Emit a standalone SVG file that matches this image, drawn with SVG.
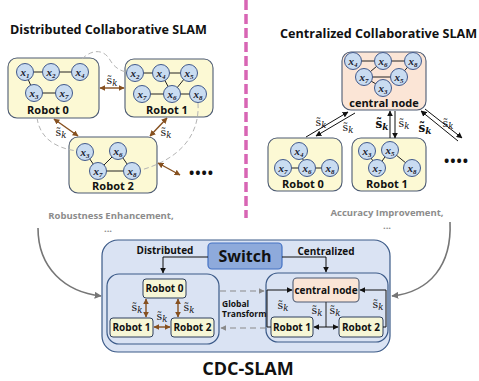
<svg xmlns="http://www.w3.org/2000/svg" width="479" height="381" viewBox="0 0 479 381">
  <style>
    .title { font-family: "Open Sans", "Noto Sans", sans-serif; font-weight: bold; font-size: 12.6px; fill: #111; }
    .robot { fill: #fcf9d4; stroke: #4d5b73; stroke-width: 1.1; }
    .cnode { fill: #fbe5d6; stroke: #4d5b73; stroke-width: 1.1; }
    .lbl { font-family: "Open Sans", "Noto Sans", sans-serif; font-weight: bold; font-size: 11px; fill: #111; text-anchor: middle; }
    .slbl { font-family: "Open Sans", "Noto Sans", sans-serif; font-weight: bold; font-size: 10px; fill: #111; text-anchor: middle; }
    .v circle { fill: #c9dcf1; stroke: #41598b; stroke-width: 1; }
    .v text { font-family: "Liberation Serif", "DejaVu Serif", serif; font-style: italic; font-weight: bold; font-size: 11px; fill: #1a1a2e; text-anchor: middle; }
    .edge { stroke: #222; stroke-width: 1; fill: none; }
    .sk { font-family: "DejaVu Serif", "Liberation Serif", serif; font-size: 11px; fill: #111; text-anchor: middle; }
    .skb { font-weight: bold; font-size: 12px; }
    .brown { stroke: #86501f; stroke-width: 1.4; fill: none; marker-start: url(#ab); marker-end: url(#ab); }
    .blk { stroke: #111; stroke-width: 1; fill: none; marker-end: url(#ak); }
    .gdash { stroke: #b4b4b4; stroke-width: 1; fill: none; stroke-dasharray: 5 3; }
    .note { font-family: "Open Sans", "Noto Sans", sans-serif; font-weight: bold; font-size: 9.5px; fill: #8c8c8c; text-anchor: middle; }
    .curve { stroke: #767676; stroke-width: 1.6; fill: none; marker-end: url(#ag); }
    .panel { fill: #dae3f3; stroke: #3b5a88; stroke-width: 1.2; }
    .sbox { fill: #f6f6d6; stroke: #2e3e5c; stroke-width: 1; }
    .dots { font-family: "Open Sans", "Noto Sans", sans-serif; font-weight: bold; font-size: 14px; fill: #111; letter-spacing: 1px; }
  </style>
  <defs>
    <marker id="ab" viewBox="0 0 10 10" refX="9" refY="5" markerWidth="6" markerHeight="6" markerUnits="userSpaceOnUse" orient="auto-start-reverse">
      <path d="M0,0 L10,5 L0,10 z" fill="#86501f"/>
    </marker>
    <marker id="ak" viewBox="0 0 10 10" refX="9" refY="5" markerWidth="6" markerHeight="6" markerUnits="userSpaceOnUse" orient="auto">
      <path d="M0,0 L10,5 L0,10 z" fill="#111"/>
    </marker>
    <marker id="ag" viewBox="0 0 10 10" refX="9" refY="5" markerWidth="7" markerHeight="7" markerUnits="userSpaceOnUse" orient="auto">
      <path d="M0,0 L10,5 L0,10 z" fill="#767676"/>
    </marker>
    <marker id="ag2" viewBox="0 0 10 10" refX="9" refY="5" markerWidth="6" markerHeight="6" markerUnits="userSpaceOnUse" orient="auto">
      <path d="M0,0 L10,5 L0,10 z" fill="#8a8a8a"/>
    </marker>
  </defs>

  <!-- section titles -->
  <text class="title" x="10" y="34">Distributed Collaborative SLAM</text>
  <text class="title" x="280" y="38">Centralized Collaborative SLAM</text>

  <!-- divider -->
  <line x1="246" y1="0" x2="246" y2="218" stroke="#d865b4" stroke-width="3.5" stroke-dasharray="10 4"/>

  <!-- ===== distributed: robots ===== -->
  <g id="d-robot0">
    <rect class="robot" x="8" y="58" width="91" height="60" rx="9"/>
    <line class="edge" x1="25" y1="72" x2="80" y2="72"/>
    <line class="edge" x1="25" y1="72" x2="34" y2="93"/>
    <line class="edge" x1="34" y1="93" x2="64" y2="93"/>
    <g class="v">
      <circle cx="25" cy="72" r="8.5"/><text x="25" y="75.5">x<tspan font-size="7" dy="2">1</tspan></text>
      <circle cx="51" cy="72" r="8.5"/><text x="51" y="75.5">x<tspan font-size="7" dy="2">2</tspan></text>
      <circle cx="80" cy="72" r="8.5"/><text x="80" y="75.5">x<tspan font-size="7" dy="2">4</tspan></text>
      <circle cx="34" cy="93" r="8.5"/><text x="34" y="96.5">x<tspan font-size="7" dy="2">3</tspan></text>
      <circle cx="64" cy="93" r="8.5"/><text x="64" y="96.5">x<tspan font-size="7" dy="2">7</tspan></text>
    </g>
    <text class="lbl" x="48" y="114">Robot 0</text>
  </g>

  <g id="d-robot1">
    <rect class="robot" x="125" y="59" width="88" height="58" rx="9"/>
    <line class="edge" x1="135" y1="73" x2="189" y2="73"/>
    <line class="edge" x1="161" y1="73" x2="172" y2="94"/>
    <line class="edge" x1="189" y1="73" x2="172" y2="94"/>
    <line class="edge" x1="142" y1="94" x2="198" y2="94"/>
    <g class="v">
      <circle cx="135" cy="73" r="8.5"/><text x="135" y="76.5">x<tspan font-size="7" dy="2">2</tspan></text>
      <circle cx="161" cy="73" r="8.5"/><text x="161" y="76.5">x<tspan font-size="7" dy="2">4</tspan></text>
      <circle cx="189" cy="73" r="8.5"/><text x="189" y="76.5">x<tspan font-size="7" dy="2">5</tspan></text>
      <circle cx="142" cy="94" r="8.5"/><text x="142" y="97.5">x<tspan font-size="7" dy="2">7</tspan></text>
      <circle cx="172" cy="94" r="8.5"/><text x="172" y="97.5">x<tspan font-size="7" dy="2">6</tspan></text>
      <circle cx="198" cy="94" r="8.5"/><text x="198" y="97.5">x<tspan font-size="7" dy="2">8</tspan></text>
    </g>
    <text class="lbl" x="167" y="114">Robot 1</text>
  </g>

  <g id="d-robot2">
    <rect class="robot" x="69" y="137" width="88" height="56" rx="9"/>
    <line class="edge" x1="85" y1="152" x2="98" y2="171"/>
    <line class="edge" x1="98" y1="171" x2="118" y2="151"/>
    <line class="edge" x1="118" y1="151" x2="132" y2="171"/>
    <line class="edge" x1="98" y1="171" x2="132" y2="171"/>
    <g class="v">
      <circle cx="85" cy="152" r="8.5"/><text x="85" y="155.5">x<tspan font-size="7" dy="2">3</tspan></text>
      <circle cx="118" cy="151" r="8.5"/><text x="118" y="154.5">x<tspan font-size="7" dy="2">6</tspan></text>
      <circle cx="98" cy="171" r="8.5"/><text x="98" y="174.5">x<tspan font-size="7" dy="2">7</tspan></text>
      <circle cx="132" cy="171" r="8.5"/><text x="132" y="174.5">x<tspan font-size="7" dy="2">8</tspan></text>
    </g>
    <text class="lbl" x="113" y="190">Robot 2</text>
  </g>

  <!-- ===== distributed: connectors ===== -->
  <g id="d-links">
    <path class="gdash" d="M82 59 C92 49, 104 49, 110 60 C114 67, 120 71, 127 72"/>
    <path class="gdash" d="M37 118 C40 138, 55 148, 77 151"/>
    <path class="gdash" d="M198 103 C200 135, 180 159, 141 170"/>
    <line class="brown" x1="100" y1="88" x2="124" y2="88"/>
    <line class="brown" x1="54" y1="119" x2="78" y2="136"/>
    <line class="brown" x1="167" y1="118" x2="150" y2="136"/>
    <line class="brown" x1="158" y1="163" x2="180" y2="175"/>
    <text class="sk" x="112" y="84">s&#x303;<tspan font-style="italic" font-size="8.5" dy="2">k</tspan></text>
    <text class="sk" x="61" y="136">s&#x303;<tspan font-style="italic" font-size="8.5" dy="2">k</tspan></text>
    <text class="sk" x="166" y="136">s&#x303;<tspan font-style="italic" font-size="8.5" dy="2">k</tspan></text>
    <text class="dots" x="189" y="178">••••</text>
  </g>

  <!-- ===== centralized: central node ===== -->
  <g id="c-central">
    <rect class="cnode" x="342" y="52" width="84" height="58" rx="9"/>
    <line class="edge" x1="353" y1="61" x2="413" y2="61"/>
    <line class="edge" x1="364" y1="77" x2="383" y2="61"/>
    <line class="edge" x1="364" y1="77" x2="399" y2="77"/>
    <line class="edge" x1="399" y1="77" x2="413" y2="61"/>
    <line class="edge" x1="364" y1="77" x2="383" y2="88"/>
    <g class="v">
      <circle cx="353" cy="61" r="8.5"/><text x="353" y="64.5">x<tspan font-size="7" dy="2">4</tspan></text>
      <circle cx="383" cy="61" r="8.5"/><text x="383" y="64.5">x<tspan font-size="7" dy="2">6</tspan></text>
      <circle cx="413" cy="61" r="8.5"/><text x="413" y="64.5">x<tspan font-size="7" dy="2">8</tspan></text>
      <circle cx="364" cy="77" r="8.5"/><text x="364" y="80.5">x<tspan font-size="7" dy="2">7</tspan></text>
      <circle cx="399" cy="77" r="8.5"/><text x="399" y="80.5">x<tspan font-size="7" dy="2">5</tspan></text>
      <circle cx="383" cy="88" r="8.5"/><text x="383" y="91.5">x<tspan font-size="7" dy="2">3</tspan></text>
    </g>
    <text class="lbl" x="384" y="107">central node</text>
  </g>

  <g id="c-robot0">
    <rect class="robot" x="268" y="138" width="74" height="53" rx="9"/>
    <line class="edge" x1="299" y1="151" x2="307" y2="168"/>
    <line class="edge" x1="283" y1="168" x2="330" y2="168"/>
    <g class="v">
      <circle cx="299" cy="151" r="8.5"/><text x="299" y="154.5">x<tspan font-size="7" dy="2">4</tspan></text>
      <circle cx="283" cy="168" r="8.5"/><text x="283" y="171.5">x<tspan font-size="7" dy="2">7</tspan></text>
      <circle cx="307" cy="168" r="8.5"/><text x="307" y="171.5">x<tspan font-size="7" dy="2">6</tspan></text>
      <circle cx="330" cy="168" r="8.5"/><text x="330" y="171.5">x<tspan font-size="7" dy="2">8</tspan></text>
    </g>
    <text class="lbl" x="303" y="188">Robot 0</text>
  </g>

  <g id="c-robot1">
    <rect class="robot" x="352" y="138" width="74" height="53" rx="9"/>
    <line class="edge" x1="367" y1="151" x2="377" y2="168"/>
    <line class="edge" x1="377" y1="168" x2="390" y2="150"/>
    <line class="edge" x1="390" y1="150" x2="412" y2="168"/>
    <g class="v">
      <circle cx="367" cy="151" r="8.5"/><text x="367" y="154.5">x<tspan font-size="7" dy="2">3</tspan></text>
      <circle cx="390" cy="150" r="8.5"/><text x="390" y="153.5">x<tspan font-size="7" dy="2">5</tspan></text>
      <circle cx="377" cy="168" r="8.5"/><text x="377" y="171.5">x<tspan font-size="7" dy="2">7</tspan></text>
      <circle cx="412" cy="168" r="8.5"/><text x="412" y="171.5">x<tspan font-size="7" dy="2">8</tspan></text>
    </g>
    <text class="lbl" x="387" y="188">Robot 1</text>
  </g>

  <!-- ===== centralized: connectors ===== -->
  <g id="c-links">
    <line class="blk" x1="306" y1="137" x2="348" y2="112"/>
    <line class="blk" x1="355" y1="113" x2="316" y2="136"/>
    <line class="blk" x1="390" y1="138" x2="390" y2="111"/>
    <line class="blk" x1="395" y1="111" x2="395" y2="138"/>
    <line class="blk" x1="458" y1="141" x2="421" y2="111"/>
    <line class="blk" x1="425" y1="109" x2="462" y2="138"/>
    <text class="sk" x="321" y="126">s&#x303;<tspan font-style="italic" font-size="8.5" dy="2">k</tspan></text>
    <text class="sk" x="348" y="131">s&#x303;<tspan font-style="italic" font-size="8.5" dy="2">k</tspan></text>
    <text class="sk skb" x="382" y="128">s&#x303;<tspan font-style="italic" font-size="9" dy="2">k</tspan></text>
    <text class="sk" x="404" y="127">s&#x303;<tspan font-style="italic" font-size="8.5" dy="2">k</tspan></text>
    <text class="sk skb" x="425" y="132">s&#x303;<tspan font-style="italic" font-size="9" dy="2">k</tspan></text>
    <text class="sk" x="448" y="127">s&#x303;<tspan font-style="italic" font-size="8.5" dy="2">k</tspan></text>
    <text class="dots" x="444" y="166">••••</text>
  </g>

  <!-- notes and feed-in arrows -->
  <text class="note" x="111" y="219">Robustness Enhancement,</text>
  <text class="note" x="108" y="232">...</text>
  <text class="note" x="387" y="216">Accuracy Improvement,</text>
  <text class="note" x="387" y="229">...</text>
  <path class="curve" d="M38 228 C38 268, 65 292, 101 296"/>
  <path class="curve" d="M450 222 C452 265, 430 292, 392 296"/>

  <!-- ===== CDC-SLAM system ===== -->
  <g id="cdc-panel">
    <rect class="panel" x="102" y="240" width="288" height="112" rx="16"/>
  </g>

  <g id="switch">
    <rect x="208" y="243" width="74" height="26" rx="4" fill="#8eaadb" stroke="#4472c4" stroke-width="1.2"/>
    <text x="245" y="262" font-family="Open Sans, Noto Sans, sans-serif" font-weight="bold" font-size="16" fill="#111" text-anchor="middle">Switch</text>
  </g>

  <g id="dist-mode">
    <rect class="panel" x="107" y="274" width="112" height="70" rx="12"/>
    <g id="b-robot0"><rect class="sbox" x="143" y="279" width="43" height="19" rx="3"/><text class="slbl" x="164.5" y="292">Robot 0</text></g>
    <g id="b-robot1"><rect class="sbox" x="110" y="318" width="43" height="19" rx="3"/><text class="slbl" x="131.5" y="331">Robot 1</text></g>
    <g id="b-robot2"><rect class="sbox" x="171" y="318" width="43" height="19" rx="3"/><text class="slbl" x="192.5" y="331">Robot 2</text></g>
  </g>

  <g id="cent-mode">
    <rect class="panel" x="266" y="273" width="122" height="69" rx="12"/>
    <g id="b-central"><rect class="cnode" x="293" y="278" width="66" height="24" rx="4"/><text class="slbl" x="326" y="294">central node</text></g>
    <g id="b-robot1c"><rect class="sbox" x="271" y="317" width="42" height="20" rx="3"/><text class="slbl" x="292" y="331">Robot 1</text></g>
    <g id="b-robot2c"><rect class="sbox" x="339" y="317" width="44" height="20" rx="3"/><text class="slbl" x="361" y="331">Robot 2</text></g>
  </g>

  <g id="cdc-links">
    <text class="slbl" x="165" y="254">Distributed</text>
    <text class="slbl" x="326" y="255">Centralized</text>
    <path class="blk" d="M208 257 H163 V273"/>
    <path class="blk" d="M282 257 H326 V272"/>

    <line class="brown" x1="146" y1="299" x2="146" y2="317"/>
    <line class="brown" x1="178" y1="299" x2="178" y2="317"/>
    <line class="brown" x1="154" y1="327" x2="170" y2="327"/>
    <text class="sk" x="137" y="311">s&#x303;<tspan font-style="italic" font-size="8.5" dy="2">k</tspan></text>
    <text class="sk" x="189" y="311">s&#x303;<tspan font-style="italic" font-size="8.5" dy="2">k</tspan></text>
    <text class="sk" x="162" y="320">s&#x303;<tspan font-style="italic" font-size="8.5" dy="2">k</tspan></text>

    <path class="edge" d="M326 302 V327"/>
    <line class="blk" x1="326" y1="327" x2="314" y2="327"/>
    <line class="blk" x1="326" y1="327" x2="338" y2="327"/>
    <path class="blk" d="M271 327 H267 V290 H292"/>
    <path class="blk" d="M383 327 H386 V290 H360"/>
    <text class="sk" x="283" y="309">s&#x303;<tspan font-style="italic" font-size="8.5" dy="2">k</tspan></text>
    <text class="sk" x="317" y="314">s&#x303;<tspan font-style="italic" font-size="8.5" dy="2">k</tspan></text>
    <text class="sk" x="335" y="314">s&#x303;<tspan font-style="italic" font-size="8.5" dy="2">k</tspan></text>
    <text class="sk" x="378" y="308">s&#x303;<tspan font-style="italic" font-size="8.5" dy="2">k</tspan></text>

    <line x1="220" y1="291" x2="264" y2="291" stroke="#8a8a8a" stroke-width="1.2" stroke-dasharray="6 4" marker-end="url(#ag2)"/>
    <line x1="266" y1="328" x2="221" y2="328" stroke="#8a8a8a" stroke-width="1.2" stroke-dasharray="6 4" marker-end="url(#ag2)"/>
    <text x="222" y="307" font-family="Open Sans, Noto Sans, sans-serif" font-weight="bold" font-size="8.5" fill="#111">Global</text>
    <text x="222" y="317" font-family="Open Sans, Noto Sans, sans-serif" font-weight="bold" font-size="8.5" fill="#111">Transform</text>
  </g>

  <text x="248" y="375" font-family="Open Sans, Noto Sans, sans-serif" font-weight="bold" font-size="18" fill="#111" text-anchor="middle">CDC-SLAM</text>
</svg>
